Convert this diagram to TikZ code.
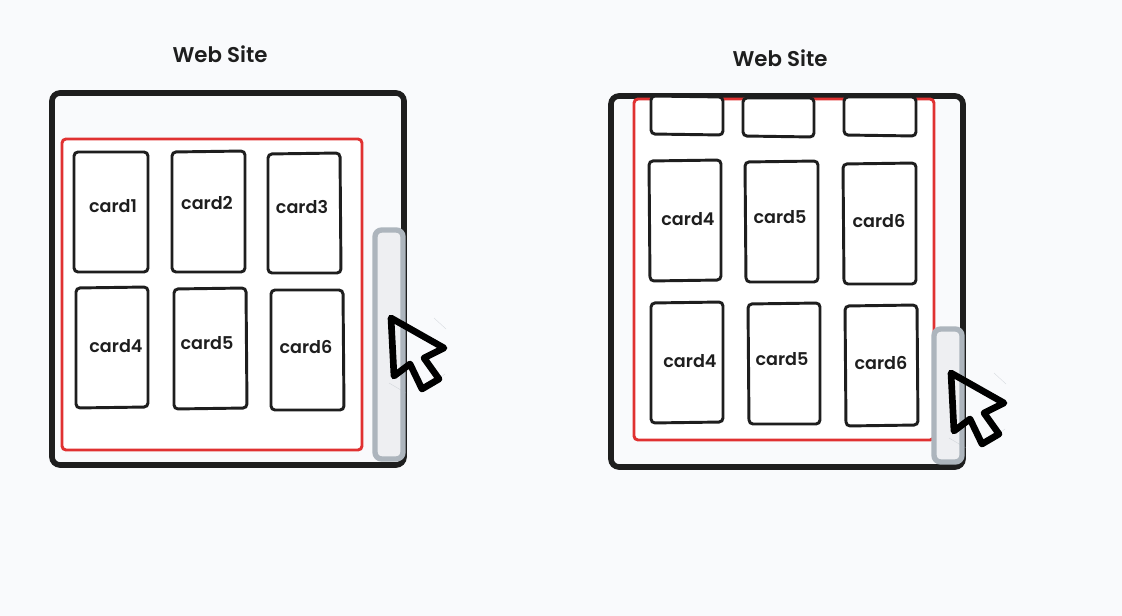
\documentclass[tikz,border=0pt]{standalone}
\usepackage{fontspec}
\setmainfont{Poppins SemiBold}
\definecolor{bgc}{HTML}{F9FAFC}
\definecolor{ink}{HTML}{1E1E1E}
\definecolor{redc}{HTML}{E03131}
\definecolor{barc}{HTML}{ADB5BD}
\definecolor{barf}{HTML}{EEEFF2}
\tikzset{
  x=0.75pt,y=-0.75pt,
  outerbox/.style={draw=ink,line width=4.2pt,rounded corners=6pt},
  redbox/.style={draw=redc,line width=2.2pt,rounded corners=3pt,fill=white},
  cardbox/.style={draw=ink,line width=2.2pt,rounded corners=3pt,fill=white},
  barbox/.style={draw=barc,line width=4pt,rounded corners=5pt,fill=barf},
  arrowcursor/.style={draw=black,line width=5pt,line join=round},
  faintline/.style={draw=barc,line width=0.25pt,opacity=0.5},
  lbl/.style={inner sep=0pt,font=\fontsize{13.2pt}{15pt}\selectfont,text=ink},
  ttl/.style={inner sep=0pt,font=\fontsize{16pt}{18pt}\selectfont,text=ink},
  pics/cursormark/.style={code={
    \draw[faintline] (43,0) -- (55,11);
    \draw[faintline] (-2,65) -- (15,75);
    \draw[faintline] (33,72) -- (54,56);
    \draw[arrowcursor] (0,0) -- (53,30) -- (33,40) -- (48,61) -- (31,71) -- (19,46) -- (3,58) -- cycle;
  }},
}
\begin{document}
\begin{tikzpicture}
\useasboundingbox (0,0) rectangle (1122,616);
\fill[bgc] (0,0) rectangle (1122,616);
% left
\node[ttl] (t1) at (220,54) {Web Site};
\draw[outerbox] (52,93) -- (404,93) -- (404,465) -- (52,465) -- cycle;
\draw[redbox] (62,139) rectangle (362,450);
\draw[cardbox] (74,152) -- (148,152) -- (148,272) -- (74,272) -- cycle;
\draw[cardbox] (172,152) -- (245,151) -- (245,272) -- (172,272) -- cycle;
\draw[cardbox] (268,154) -- (340,153) -- (341,273) -- (268,273) -- cycle;
\draw[cardbox] (76,288) -- (148,287) -- (148,407) -- (76,408) -- cycle;
\draw[cardbox] (174,289) -- (246,288) -- (247,408) -- (174,409) -- cycle;
\draw[cardbox] (271,290) -- (343,290) -- (344,410) -- (271,410) -- cycle;
\node[lbl] (a1) at (113,206) {card1};
\node[lbl] (a2) at (207,203) {card2};
\node[lbl] (a3) at (302,207) {card3};
\node[lbl] (a4) at (116,346) {card4};
\node[lbl] (a5) at (207,343) {card5};
\node[lbl] (a6) at (306,347) {card6};
\draw[barbox] (375,230) rectangle (403,459);
\pic at (391,318) {cursormark};
% right
\node[ttl] (t2) at (780,58) {Web Site};
\draw[outerbox] (611,96) -- (963,96) -- (963,467) -- (611,467) -- cycle;
\draw[redbox] (634,99) rectangle (934,440);
\draw[cardbox] (651,96) -- (723,97) -- (723,135) -- (651,134) -- cycle;
\draw[cardbox] (743,98) -- (814,98) -- (814,137) -- (743,136) -- cycle;
\draw[cardbox] (844,97) -- (916,97) -- (916,136) -- (844,135) -- cycle;
\draw[cardbox] (649,161) -- (721,160) -- (721,280) -- (650,281) -- cycle;
\draw[cardbox] (745,162) -- (818,161) -- (818,282) -- (746,282) -- cycle;
\draw[cardbox] (843,164) -- (916,163) -- (916,284) -- (844,284) -- cycle;
\draw[cardbox] (651,303) -- (723,302) -- (723,422) -- (651,423) -- cycle;
\draw[cardbox] (748,304) -- (820,303) -- (820,424) -- (749,424) -- cycle;
\draw[cardbox] (845,306) -- (917,305) -- (918,425) -- (846,426) -- cycle;
\node[lbl] (b1) at (688,219) {card4};
\node[lbl] (b2) at (780,217) {card5};
\node[lbl] (b3) at (879,221) {card6};
\node[lbl] (b4) at (690,361) {card4};
\node[lbl] (b5) at (782,359) {card5};
\node[lbl] (b6) at (881,363) {card6};
\draw[barbox] (934,329) rectangle (962,462);
\pic at (951,373) {cursormark};
\end{tikzpicture}
\end{document}
